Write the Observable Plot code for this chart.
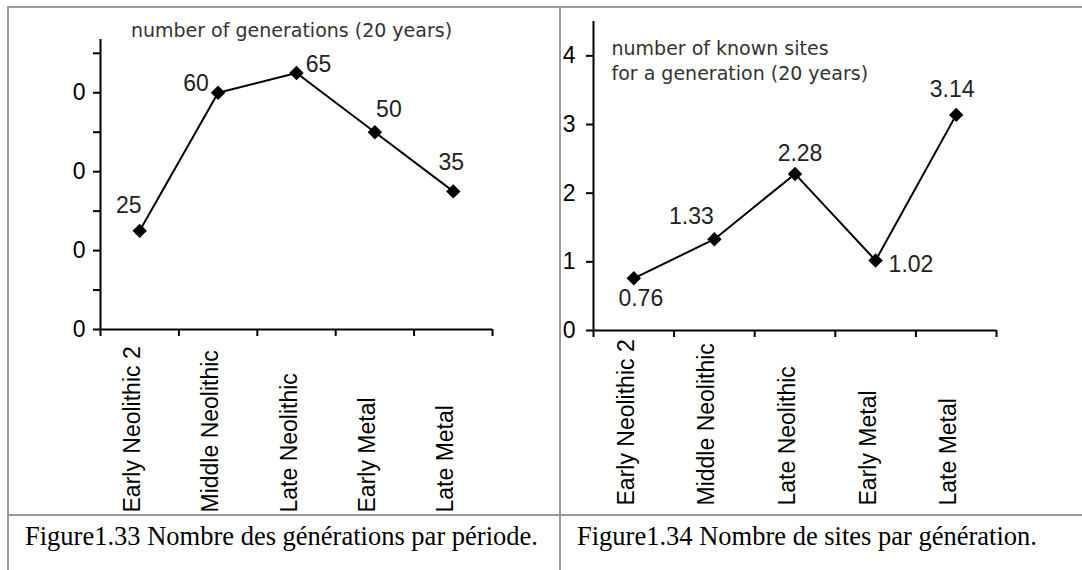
<!DOCTYPE html>
<html>
<head>
<meta charset="utf-8">
<script src="https://cdn.jsdelivr.net/npm/d3@7"></script>
<script src="https://cdn.jsdelivr.net/npm/@observablehq/plot@0.6"></script>
<style>
  html, body { margin: 0; padding: 0; background: #fff; }
  #wrap { position: relative; width: 1082px; height: 570px; overflow: hidden; background: #fff; }
  .ln { position: absolute; background: #999; }
  .cap { position: absolute; font-family: "Liberation Serif", "Times New Roman", serif; font-size: 26.5px; line-height: 1; color: #000; white-space: nowrap; }
  #c1, #c2 { position: absolute; top: 0; }
</style>
</head>
<body>
<div id="wrap">
  <div id="c1" style="left:0px"></div>
  <div id="c2" style="left:561px"></div>
  <div class="ln" style="left:7px;top:6px;width:1075px;height:2px"></div>
  <div class="ln" style="left:7px;top:6px;width:2px;height:564px"></div>
  <div class="ln" style="left:559px;top:6px;width:2px;height:564px"></div>
  <div class="ln" style="left:7px;top:514px;width:1075px;height:2px"></div>
  <div class="cap" id="cap1" style="left:25px;top:523px"></div>
  <div class="cap" id="cap2" style="left:577px;top:523px"></div>
</div>
<script>
// ---- data ----
const periods = ["Early Neolithic 2", "Middle Neolithic", "Late Neolithic", "Early Metal", "Late Metal"];
const generations = [25, 60, 65, 50, 35];
const sitesPerGeneration = [0.76, 1.33, 2.28, 1.02, 3.14];
const yTicks1 = [0, 10, 20, 30, 40, 50, 60, 70];
const yTickLabels1 = ["0", "", "0", "", "0", "", "0", ""];
const yTicks2 = [0, 1, 2, 3, 4];
const yTickLabels2 = ["0", "1", "2", "3", "4"];
const title1 = "number of generations (20 years)";
const title2 = "number of known sites\nfor a generation (20 years)";
const caption1 = "Figure1.33 Nombre des générations par période.";
const caption2 = "Figure1.34 Nombre de sites par génération.";

document.getElementById("cap1").textContent = caption1;
document.getElementById("cap2").textContent = caption2;

const sans = '"Liberation Sans", Arial, sans-serif';
const FS = 23;
const bounds = d3.range(periods.length + 1).map(i => i - 0.5);

function rows(values) {
  return periods.map((p, i) => ({i, p, v: values[i]}));
}
function lab(data, i, dx, dy, textAnchor = "middle") {
  return Plot.text([data[i]], {x: "i", y: "v", text: d => String(d.v), dx, dy, textAnchor, fill: "#222", fontSize: FS});
}

// ---- chart 1 ----
const d1 = rows(generations);
const plot1 = Plot.plot({
  width: 559, height: 514,
  marginLeft: 100, marginRight: 67, marginTop: 39, marginBottom: 185,
  style: {fontFamily: sans, fontSize: FS + "px", color: "#000", background: "transparent", overflow: "visible"},
  x: {type: "linear", domain: [-0.5, periods.length - 0.5], label: null},
  y: {domain: [0, 73.5], label: null},
  marks: [
    Plot.axisX(bounds, {tickSize: 7, tickFormat: () => "", strokeWidth: 2, label: null}),
    Plot.axisY(yTicks1, {tickSize: 7, tickPadding: 8, tickFormat: d => yTickLabels1[yTicks1.indexOf(d)], strokeWidth: 2, fontSize: FS, label: null}),
    Plot.ruleY([0], {strokeWidth: 2}),
    Plot.ruleX([-0.5], {strokeWidth: 2}),
    Plot.text(d1, {x: "i", frameAnchor: "bottom", text: "p", rotate: -90, textAnchor: "start", dy: 183, fontSize: FS, fill: "#000"}),
    Plot.line(d1, {x: "i", y: "v", stroke: "#000", strokeWidth: 2}),
    Plot.dot(d1, {x: "i", y: "v", symbol: "diamond2", r: 6.5, fill: "#000", stroke: null}),
    lab(d1, 0, -11, -25),
    lab(d1, 1, -22, -9),
    lab(d1, 2, 22, -8),
    lab(d1, 3, 14, -23),
    lab(d1, 4, -2, -29),
    Plot.text([title1], {text: d => d, frameAnchor: "top", dx: -5, dy: -16, fontFamily: '"DejaVu Sans", Verdana, sans-serif', fontSize: 19, fill: "#333"})
  ]
});
document.getElementById("c1").appendChild(plot1);

// ---- chart 2 ----
const d2 = rows(sitesPerGeneration);
const plot2 = Plot.plot({
  width: 521, height: 514,
  marginLeft: 32, marginRight: 86, marginTop: 21, marginBottom: 184,
  style: {fontFamily: sans, fontSize: FS + "px", color: "#000", background: "transparent", overflow: "visible"},
  x: {type: "linear", domain: [-0.5, periods.length - 0.5], label: null},
  y: {domain: [0, 4.5], label: null},
  marks: [
    Plot.axisX(bounds, {tickSize: 7, tickFormat: () => "", strokeWidth: 2, label: null}),
    Plot.axisY(yTicks2, {tickSize: 7, tickPadding: 11, tickFormat: d => yTickLabels2[yTicks2.indexOf(d)], strokeWidth: 2, fontSize: FS, label: null}),
    Plot.ruleY([0], {strokeWidth: 2}),
    Plot.ruleX([-0.5], {strokeWidth: 2}),
    Plot.text(d2, {x: "i", frameAnchor: "bottom", text: "p", rotate: -90, textAnchor: "start", dy: 175, fontSize: FS, fill: "#000"}),
    Plot.line(d2, {x: "i", y: "v", stroke: "#000", strokeWidth: 2}),
    Plot.dot(d2, {x: "i", y: "v", symbol: "diamond2", r: 6.5, fill: "#000", stroke: null}),
    lab(d2, 0, 7, 20),
    lab(d2, 1, -23, -23),
    lab(d2, 2, 5, -20),
    lab(d2, 3, 13, 4, "start"),
    lab(d2, 4, -4, -25),
    Plot.text([title2], {text: d => d, frameAnchor: "top-left", textAnchor: "start", lineAnchor: "top", lineHeight: 1.3, dx: 18, dy: 16, fontFamily: '"DejaVu Sans", Verdana, sans-serif', fontSize: 19, fill: "#333"})
  ]
});
document.getElementById("c2").appendChild(plot2);
</script>
</body>
</html>
